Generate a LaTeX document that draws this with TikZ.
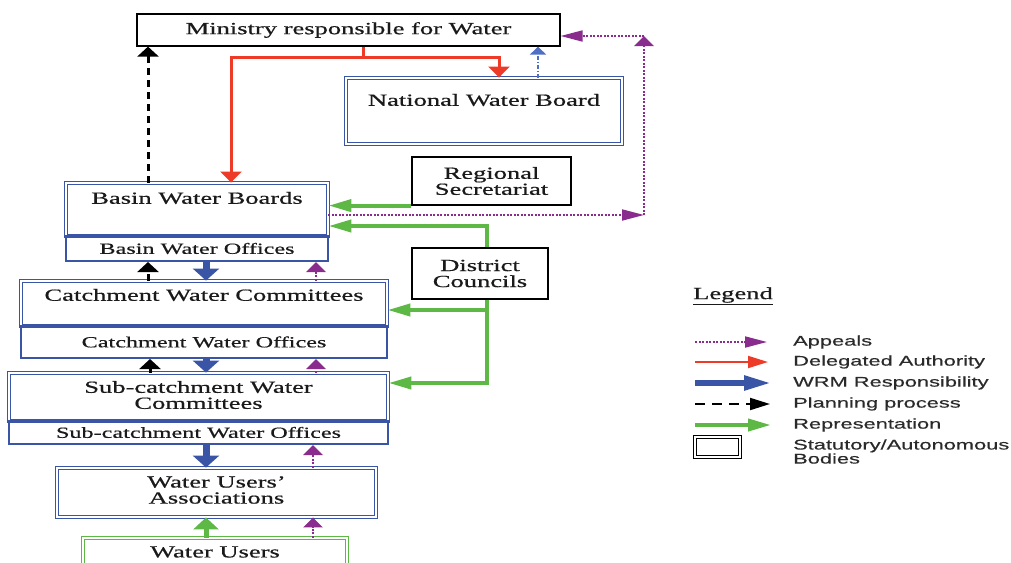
\documentclass[tikz,border=0pt]{standalone}
\usepackage{fontspec}
\setmainfont{Liberation Serif}[FakeStretch=1.56,FakeBold=0.6]
\newfontfamily\legfont{Liberation Sans}[FakeStretch=1.56,FakeBold=0.4]
\usetikzlibrary{arrows.meta}
\definecolor{wblue}{HTML}{3A55A6}
\definecolor{wlblue}{HTML}{4F6FC4}
\definecolor{wred}{HTML}{EE3B27}
\definecolor{wgreen}{HTML}{5DB845}
\definecolor{wpurple}{HTML}{8A2C8E}
\definecolor{txt}{HTML}{1A1A1A}
\definecolor{legtxt}{HTML}{2A2A2A}
\begin{document}
\begin{tikzpicture}[x=1pt,y=-1pt,
 box/.style={draw=black, line width=1.2pt, fill=white, inner sep=0pt, text=txt},
 dblbox/.style={draw=wblue, double=white, double distance=1.6pt, line width=0.9pt, inner sep=0pt},
 offbox/.style={draw=wblue, line width=2pt, inner sep=0pt},
 grnbox/.style={draw=wgreen, double=white, double distance=1.6pt, line width=0.9pt, inner sep=0pt},
 lbl/.style={font=\fontsize{17}{16}\selectfont, text=txt, align=center, inner sep=0pt},
 slbl/.style={font=\fontsize{15.5}{15}\selectfont, text=txt, align=center, inner sep=0pt},
 delegline/.style={draw=wred, color=wred, line width=3pt},
 delegV/.style={delegline, -{Triangle[width=21pt,length=11pt]}},
 delegH/.style={delegline, line width=2pt, -{Triangle[width=12pt,length=20pt]}},
 wrmline/.style={draw=wblue, color=wblue, line width=7pt},
 wrmV/.style={wrmline, -{Triangle[width=26pt,length=12pt]}},
 wrmH/.style={wrmline, line width=5.5pt, -{Triangle[width=14pt,length=27pt]}},
 planline/.style={draw=black, line width=3pt, dash pattern=on 7pt off 5pt},
 planV/.style={planline, -{Triangle[width=21pt,length=10pt]}},
 planH/.style={planline, line width=2pt, dash pattern=on 10pt off 7pt, -{Triangle[width=12pt,length=20pt]}},
 appealline/.style={draw=wpurple, color=wpurple, line width=1.8pt, dash pattern=on 2pt off 1.5pt},
 appealV/.style={appealline, line width=2.4pt, -{Triangle[width=19pt,length=10pt]}},
 appealH/.style={appealline, -{Triangle[width=11pt,length=22pt]}},
 repline/.style={draw=wgreen, color=wgreen, line width=4pt},
 repV/.style={repline, line width=5pt, -{Triangle[width=25pt,length=12pt]}},
 repH/.style={repline, -{Triangle[width=12pt,length=23pt]}},
 nwbdd/.style={draw=wlblue, color=wlblue, line width=1.5pt, dash pattern=on 4pt off 2pt on 1pt off 2pt, -{Triangle[width=16pt,length=8pt]}},
 legtext/.style={font=\legfont\fontsize{14}{13}\selectfont, text=legtxt, anchor=west, align=left, inner sep=0pt},
]
\useasboundingbox (0,0) rectangle (1011,562);

% boxes
\node[box, lbl, minimum width=423, minimum height=32] (ministry) at (348.5,30) {Ministry responsible for Water};
\node[dblbox, minimum width=276, minimum height=66] (nwb) at (484,111) {};
\node[lbl] (nwbt) at (484,100) {National Water Board};
\node[box, lbl, minimum width=159, minimum height=48] (rs) at (491.5,181) {Regional\\Secretariat};
\node[dblbox, minimum width=262, minimum height=53] (basin) at (197,209.5) {};
\node[lbl] (basint) at (197,198) {Basin Water Boards};
\node[offbox, slbl, minimum width=262, minimum height=25] (bwo) at (197,248.5) {Basin Water Offices};
\node[box, lbl, minimum width=136, minimum height=51] (dc) at (480,273.5) {District\\Councils};
\node[dblbox, minimum width=366, minimum height=45] (cwc) at (204,303.5) {};
\node[lbl] (cwct) at (204,295) {Catchment Water Committees};
\node[offbox, slbl, minimum width=366, minimum height=32] (cwo) at (204,342) {Catchment Water Offices};
\node[dblbox, minimum width=379, minimum height=48] (scwc) at (198.5,397) {};
\node[lbl] (scwct) at (198.5,395) {Sub-catchment Water\\Committees};
\node[offbox, slbl, minimum width=379, minimum height=23] (scwo) at (198.5,432.5) {Sub-catchment Water Offices};
\node[dblbox, minimum width=319, minimum height=49] (wua) at (216.5,492.5) {};
\node[lbl] (wuat) at (216.5,490) {Water Users’\\Associations};
\node[grnbox, minimum width=264, minimum height=50] (wu) at (215,563) {};
\node[lbl] (wut) at (215,552) {Water Users};

% helper coordinates
\coordinate (xa) at (148,0);
\coordinate (xb) at (206,0);
\coordinate (xc) at (316,0);
\coordinate (xd) at (313,0);
\coordinate (xe) at (150,0);

% delegated authority
\coordinate (r0) at (363,57);
\draw[delegline] (r0 |- ministry.south) -- ([yshift=-1.5pt]r0);
\draw[delegV] (r0) -| ([xshift=15pt]nwb.north);
\draw[delegV] (r0) -| ([xshift=34pt]basin.north);

% NWB to ministry
\coordinate (bd) at ([xshift=54pt]nwb.north);
\draw[nwbdd] (bd) -- (bd |- ministry.south);

% planning basin to ministry
\coordinate (pl) at ([xshift=-49pt]basin.north);
\draw[planV] (pl) -- (pl |- ministry.south);

% appeals
\coordinate (p1) at (644,215);
\coordinate (p2) at (644,36);
\draw[appealH] (p1 -| basin.east) -- (p1);
\draw[appealV] (p1) -- (p2);
\draw[appealH] (p2) -- (p2 -| ministry.east);

% representation
\draw[repH] (rs.south west) -- (rs.south west -| basin.east);
\coordinate (g1) at (487,226);
\coordinate (g2) at (487,310);
\coordinate (g3) at (487,383);
\draw[repH] (g1 |- dc.north) -- (g1) -- (g1 -| basin.east);
\draw[repH] (g2 |- dc.south) -- (g3) -- (g3 -| scwc.east);
\draw[repH] (g2) -- (g2 -| cwc.east);

% level arrows
\draw[planV] (cwc.north -| xa) -- (bwo.south -| xa);
\draw[wrmV] (bwo.south -| xb) -- (cwc.north -| xb);
\draw[appealV] (cwc.north -| xc) -- (bwo.south -| xc);
\draw[planV] (scwc.north -| xe) -- (cwo.south -| xe);
\draw[wrmV] (cwo.south -| xb) -- (scwc.north -| xb);
\draw[appealV] (scwc.north -| xc) -- (cwo.south -| xc);
\draw[wrmV] (scwo.south -| xb) -- (wua.north -| xb);
\draw[appealV] (wua.north -| xd) -- (scwo.south -| xd);
\draw[repV] (wu.north -| xb) -- (wua.south -| xb);
\draw[appealV] (wu.north -| xd) -- (wua.south -| xd);

% legend
\node[lbl] (leg) at (733,296) {\underline{Legend}};
\coordinate (l1a) at (695,342); \coordinate (l1b) at (767,342);
\coordinate (l2a) at (695,362); \coordinate (l2b) at (768,362);
\coordinate (l3a) at (695,383); \coordinate (l3b) at (771,383);
\coordinate (l4a) at (695,404); \coordinate (l4b) at (770,404);
\coordinate (l5a) at (695,425); \coordinate (l5b) at (771,425);
\draw[appealH] (l1a) -- (l1b);
\draw[delegH] (l2a) -- (l2b);
\draw[wrmH] (l3a) -- (l3b);
\draw[planH] (l4a) -- (l4b);
\draw[repH] (l5a) -- (l5b);
\node[legtext] (l1t) at (793,342) {Appeals};
\node[legtext] (l2t) at (793,362) {Delegated Authority};
\node[legtext] (l3t) at (793,383) {WRM Responsibility};
\node[legtext] (l4t) at (793,404) {Planning process};
\node[legtext] (l5t) at (793,425) {Representation};
\node[draw=black, double=white, double distance=1.8pt, line width=1.1pt, minimum width=45, minimum height=20, inner sep=0pt] (lsq) at (717.5,447) {};
\node[legtext] (l6t) at (793,451.5) {Statutory/Autonomous\\Bodies};
\end{tikzpicture}
\end{document}
